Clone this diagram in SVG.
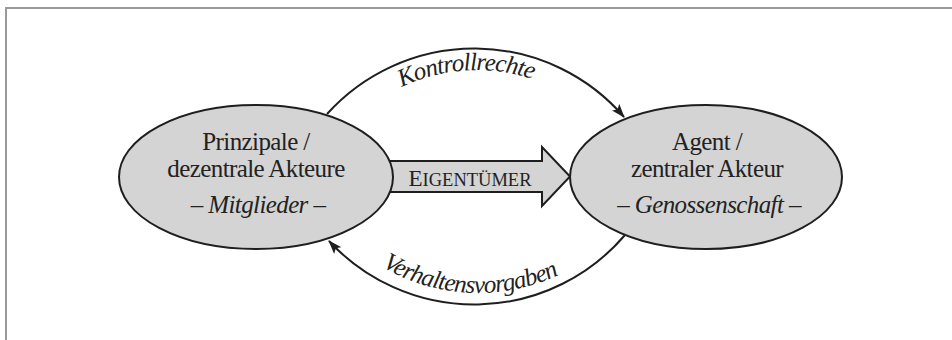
<svg xmlns="http://www.w3.org/2000/svg" width="952" height="340" viewBox="0 0 952 340">
<style>
.node{fill:#d4d4d4;stroke:#1e1e1e;stroke-width:2}
.lbl{font-family:"Liberation Serif","Times New Roman",serif;font-size:25px;letter-spacing:-0.6px;fill:#222;text-anchor:middle}
.it{font-style:italic}
.al{letter-spacing:-0.8px}
.arc{fill:none;stroke:#1e1e1e;stroke-width:2}
.frame{stroke:#9a9a9a;stroke-width:2;fill:none}
</style>
<defs>
<marker id="ah" markerWidth="14" markerHeight="10" refX="13" refY="5" orient="auto" markerUnits="userSpaceOnUse">
<path d="M0,0 L14,5 L0,10 L3,5 Z" fill="#1e1e1e"/>
</marker>
<path id="tp1" d="M 302 245 A 175 175 0 0 1 652 245"/>
<path id="tp2" d="M 289 104 A 189 189 0 0 0 667 104"/>
</defs>
<rect width="952" height="340" fill="#fff"/>
<path class="frame" d="M6,340 L6,8 L952,8"/>
<g id="connectors">
<path id="c-eigentuemer" d="M380,161 L542,161 L542,147 L570,176.5 L542,206 L542,192 L380,192 Z" fill="#d4d4d4" stroke="#1e1e1e" stroke-width="2"/>
<text class="lbl" x="470" y="186" style="font-size:18.5px;letter-spacing:0"><tspan style="font-size:23px">E</tspan>IGENTÜMER</text>
<path class="arc" d="M 327 114 A 198 198 0 0 1 624 117" marker-end="url(#ah)"/>
<text class="lbl it al"><textPath href="#tp1" startOffset="48%">Kontrollrechte</textPath></text>
<path class="arc" d="M 625 235 A 198 198 0 0 1 329 241" marker-end="url(#ah)"/>
<text class="lbl it al"><textPath href="#tp2" startOffset="48.5%">Verhaltensvorgaben</textPath></text>
</g>
<g id="prinzipale">
<ellipse class="node" cx="256" cy="177" rx="137" ry="72"/>
<text class="lbl" x="256" y="150">Prinzipale /</text>
<text class="lbl" x="256" y="177">dezentrale Akteure</text>
<text class="lbl it" x="258" y="213">– Mitglieder –</text>
</g>
<g id="agent">
<ellipse class="node" cx="706" cy="177" rx="136" ry="72"/>
<text class="lbl" x="707" y="150">Agent /</text>
<text class="lbl" x="707" y="177">zentraler Akteur</text>
<text class="lbl it" x="709" y="213">– Genossenschaft –</text>
</g>
</svg>
